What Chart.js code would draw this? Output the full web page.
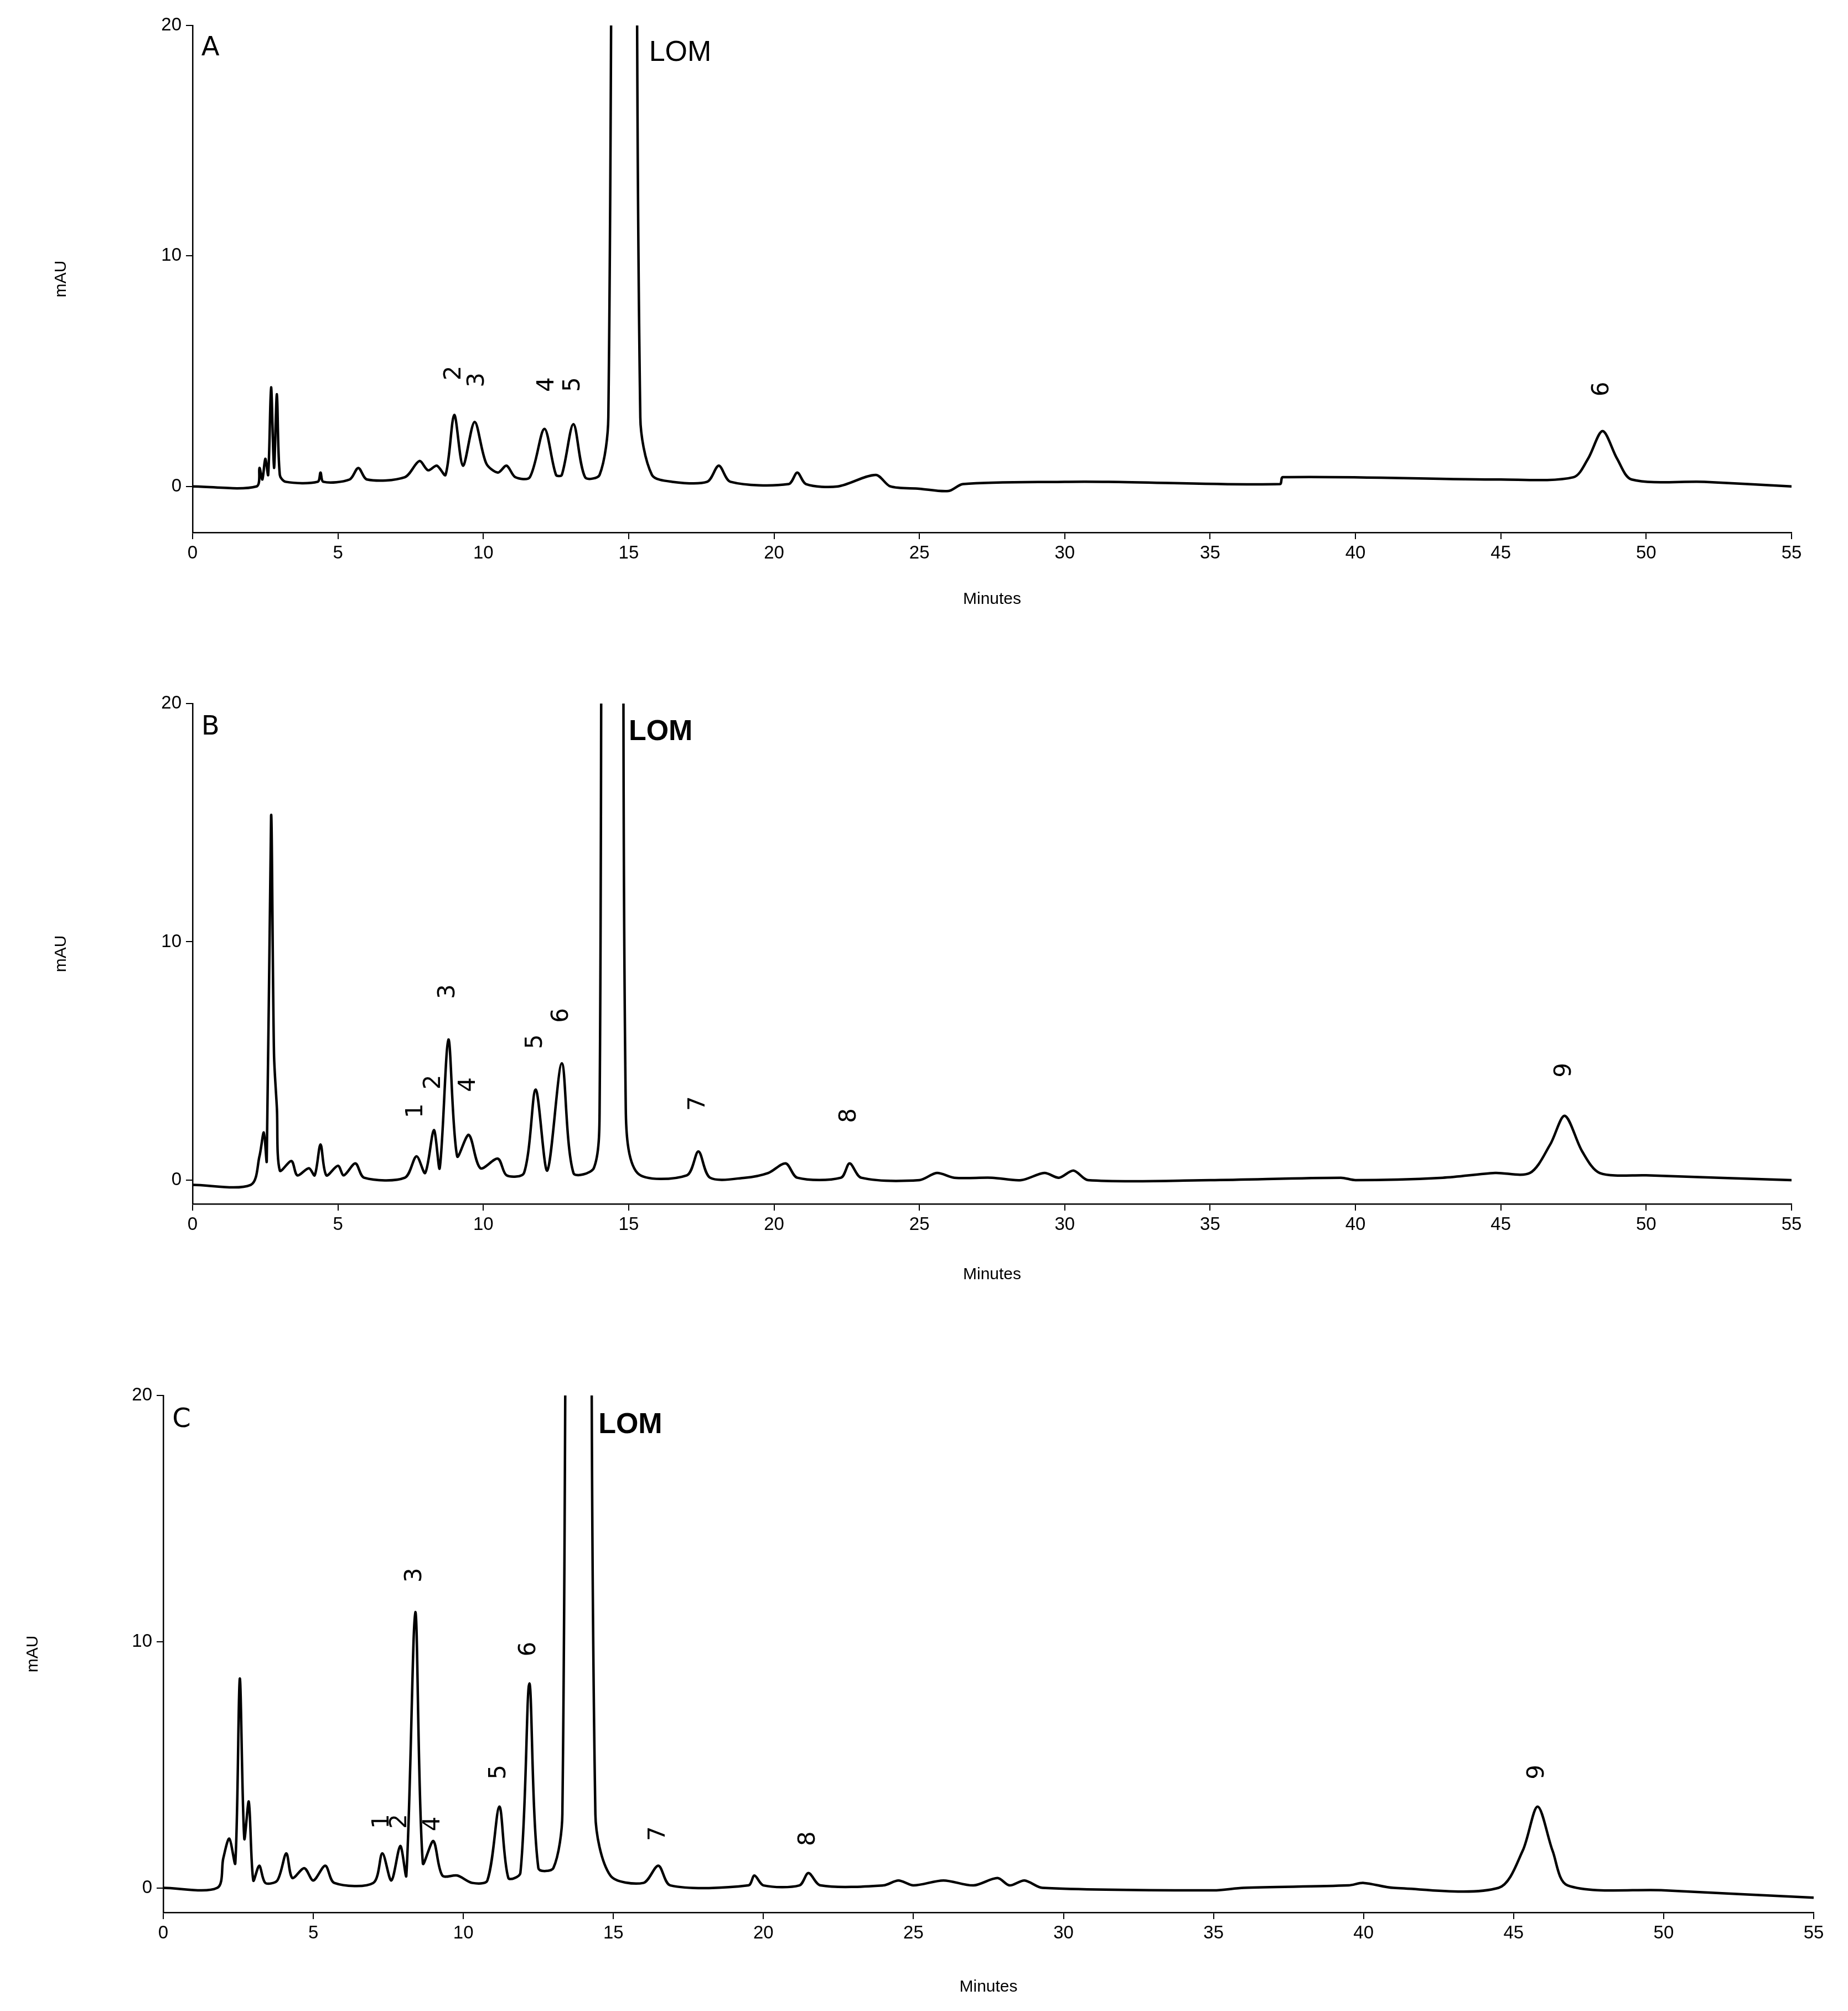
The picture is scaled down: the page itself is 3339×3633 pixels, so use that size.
<!DOCTYPE html>
<html><head><meta charset="utf-8">
<script src="https://cdn.jsdelivr.net/npm/chart.js@4"></script>
<style>body{margin:0;background:#fff;width:3339px;height:3633px;position:relative;overflow:hidden}
canvas{position:absolute;left:0}</style></head><body>
<canvas id="cA" style="top:0px"></canvas>
<canvas id="cB" style="top:1140px"></canvas>
<canvas id="cC" style="top:2380px"></canvas>
<script>
const xTicks=[0,5,10,15,20,25,30,35,40,45,50,55];
const yTicks=[0,10,20];
const traceA=[[0,0],[2.2,0],[2.3,0.8],[2.4,0.3],[2.5,1.2],[2.6,0.5],[2.7,4.3],[2.8,0.8],[2.9,4.0],[3.0,0.5],[3.2,0.2],[4.3,0.2],[4.4,0.6],[4.5,0.2],[5.4,0.3],[5.7,0.8],[6.0,0.3],[7.3,0.4],[7.8,1.1],[8.1,0.7],[8.4,0.9],[8.7,0.5],[9.0,3.1],[9.3,0.9],[9.7,2.8],[10.1,1.0],[10.5,0.6],[10.8,0.9],[11.1,0.4],[11.6,0.4],[12.1,2.5],[12.5,0.5],[12.7,0.5],[13.1,2.7],[13.5,0.4],[14.0,0.5],[14.3,3],[14.6,60],[15.1,60],[15.4,3],[15.8,0.5],[16.5,0.2],[17.7,0.2],[18.1,0.9],[18.5,0.2],[20.5,0.1],[20.8,0.6],[21.1,0.1],[22.2,0.0],[23.5,0.5],[24.0,0.0],[25,-0.1],[26,-0.2],[26.5,0.1],[30,0.2],[31.5,0.2],[37.4,0.1],[37.5,0.4],[45,0.3],[47.5,0.4],[48.0,1.2],[48.5,2.4],[49.0,1.2],[49.5,0.3],[52,0.2],[55,0]];
const traceB=[[0,-0.2],[2.0,-0.2],[2.3,1.0],[2.45,2.0],[2.55,0.8],[2.7,15.3],[2.8,5.3],[2.9,3],[3.0,0.4],[3.4,0.8],[3.6,0.2],[4.0,0.5],[4.2,0.2],[4.4,1.5],[4.6,0.2],[5.0,0.6],[5.2,0.2],[5.6,0.7],[5.9,0.1],[7.3,0.1],[7.7,1.0],[8.0,0.3],[8.3,2.1],[8.5,0.5],[8.8,5.9],[9.1,1.0],[9.5,1.9],[9.9,0.5],[10.5,0.9],[10.8,0.2],[11.4,0.3],[11.8,3.8],[12.2,0.4],[12.7,4.9],[13.1,0.3],[13.8,0.5],[14.0,3],[14.2,60],[14.7,60],[14.9,3],[15.3,0.3],[17.0,0.2],[17.4,1.2],[17.8,0.1],[19,0.1],[19.8,0.3],[20.4,0.7],[20.8,0.1],[22.3,0.1],[22.6,0.7],[23.0,0.1],[25.0,0],[25.6,0.3],[26.2,0.1],[27.5,0.1],[28.5,0],[29.3,0.3],[29.8,0.1],[30.3,0.4],[30.8,0],[35,0],[39.5,0.1],[40,0],[43,0.1],[44.8,0.3],[46.0,0.3],[46.7,1.5],[47.2,2.7],[47.8,1.2],[48.4,0.3],[50,0.2],[55,0]];
const traceC=[[0,0],[1.8,0],[2.0,1.2],[2.2,2.0],[2.4,1.0],[2.55,8.5],[2.7,2.0],[2.85,3.5],[3.0,0.3],[3.2,0.9],[3.4,0.2],[3.8,0.3],[4.1,1.4],[4.3,0.4],[4.7,0.8],[5.0,0.3],[5.4,0.9],[5.7,0.2],[7.0,0.2],[7.3,1.4],[7.6,0.3],[7.9,1.7],[8.1,0.5],[8.4,11.2],[8.65,1.0],[9.0,1.9],[9.3,0.5],[9.8,0.5],[10.3,0.2],[10.8,0.3],[11.2,3.3],[11.5,0.4],[11.9,0.6],[12.2,8.3],[12.5,0.8],[13.0,0.8],[13.3,3],[13.6,60],[14.1,60],[14.4,3],[14.9,0.5],[16.0,0.2],[16.5,0.9],[16.9,0.1],[19.5,0.1],[19.7,0.5],[20.0,0.1],[21.2,0.1],[21.5,0.6],[21.9,0.1],[24.0,0.1],[24.5,0.3],[25,0.1],[26,0.3],[27,0.1],[27.8,0.4],[28.2,0.1],[28.7,0.3],[29.3,0],[35,-0.1],[36,0],[39.5,0.1],[40,0.2],[41,0],[44.5,0],[45.3,1.5],[45.8,3.3],[46.3,1.5],[46.8,0.1],[50,-0.1],[55,-0.4]];
const peaksA=[["2",9.0,4.6],["3",9.8,4.3],["4",12.2,4.1],["5",13.1,4.1],["6",48.5,3.9]];
const peaksB=[["1",7.7,2.6],["2",8.3,3.8],["3",8.8,7.6],["4",9.5,3.7],["5",11.8,5.5],["6",12.7,6.6],["7",17.4,2.9],["8",22.6,2.4],["9",47.2,4.3]];
const peaksC=[["1",7.3,2.4],["2",7.9,2.4],["3",8.4,12.4],["4",9.0,2.3],["5",11.2,4.4],["6",12.2,9.4],["7",16.5,1.9],["8",21.5,1.7],["9",45.8,4.4]];

function make(id,h,top,bottom,left,right,ymin,trace,peaks,letter,lomX,lomBold,minutesY,mauX){
  const cv=document.getElementById(id);
  cv.width=3339;cv.height=h;cv.style.width='3339px';cv.style.height=h+'px';
  const ann={id:'ann',afterDraw(c){
    const x=c.scales.x,y=c.scales.y,ctx=c.ctx;ctx.save();ctx.fillStyle='#000';
    ctx.font='42px "DejaVu Sans"';
    peaks.forEach(p=>{ctx.save();ctx.translate(x.getPixelForValue(p[1]),y.getPixelForValue(p[2]));ctx.rotate(-Math.PI/2);ctx.textAlign='left';ctx.textBaseline='middle';ctx.fillText(p[0],0,0);ctx.restore();});
    ctx.font='48px "DejaVu Sans"';ctx.textAlign='left';ctx.textBaseline='middle';
    ctx.fillText(letter,x.getPixelForValue(0.3),y.getPixelForValue(19));
    ctx.font=(lomBold?'bold ':'')+'52px "Liberation Sans"';
    ctx.fillText('LOM',x.getPixelForValue(lomX),y.getPixelForValue(18.8));
    ctx.font='30px "Liberation Sans"';ctx.textAlign='center';
    ctx.fillText('Minutes',(x.left+x.right)/2,minutesY);
    ctx.save();ctx.translate(mauX,(y.top+y.bottom)/2);ctx.rotate(-Math.PI/2);ctx.fillText('mAU',0,0);ctx.restore();
    ctx.restore();}};
  new Chart(cv,{type:'line',data:{datasets:[{data:trace.map(p=>({x:p[0],y:p[1]})),borderColor:'#000',borderWidth:4.5,pointRadius:0,tension:0.3,fill:false}]},
   options:{animation:false,responsive:false,events:[],layout:{padding:{top:top,right:3339-right,left:0,bottom:0}},
    plugins:{legend:{display:false},tooltip:{enabled:false}},
    scales:{
     x:{type:'linear',min:0,max:55,afterFit(s){s.height=h-bottom;},afterBuildTicks(s){s.ticks=xTicks.map(v=>({value:v}));},
        grid:{drawOnChartArea:false,drawTicks:true,tickLength:12,color:'#000',lineWidth:2},border:{color:'#000',width:2.5},
        ticks:{color:'#000',font:{size:33,family:'Liberation Sans'},padding:6,maxRotation:0}},
     y:{min:ymin,max:20,afterFit(s){s.width=left;},afterBuildTicks(s){s.ticks=yTicks.map(v=>({value:v}));},
        grid:{drawOnChartArea:false,drawTicks:true,tickLength:12,color:'#000',lineWidth:2},border:{color:'#000',width:2.5},
        ticks:{color:'#000',font:{size:33,family:'Liberation Sans'},padding:8}}}},
   plugins:[ann]});
}
make('cA',1120,46,962,348,3237,-2,traceA,peaksA,'A',15.7,false,1083,111);
make('cB',1200,131,1035,348,3237,-1,traceB,peaksB,'B',15.0,true,1163,111);
make('cC',1253,141,1075,295,3277,-1,traceC,peaksC,'C',14.5,true,1210,60);
</script></body></html>
